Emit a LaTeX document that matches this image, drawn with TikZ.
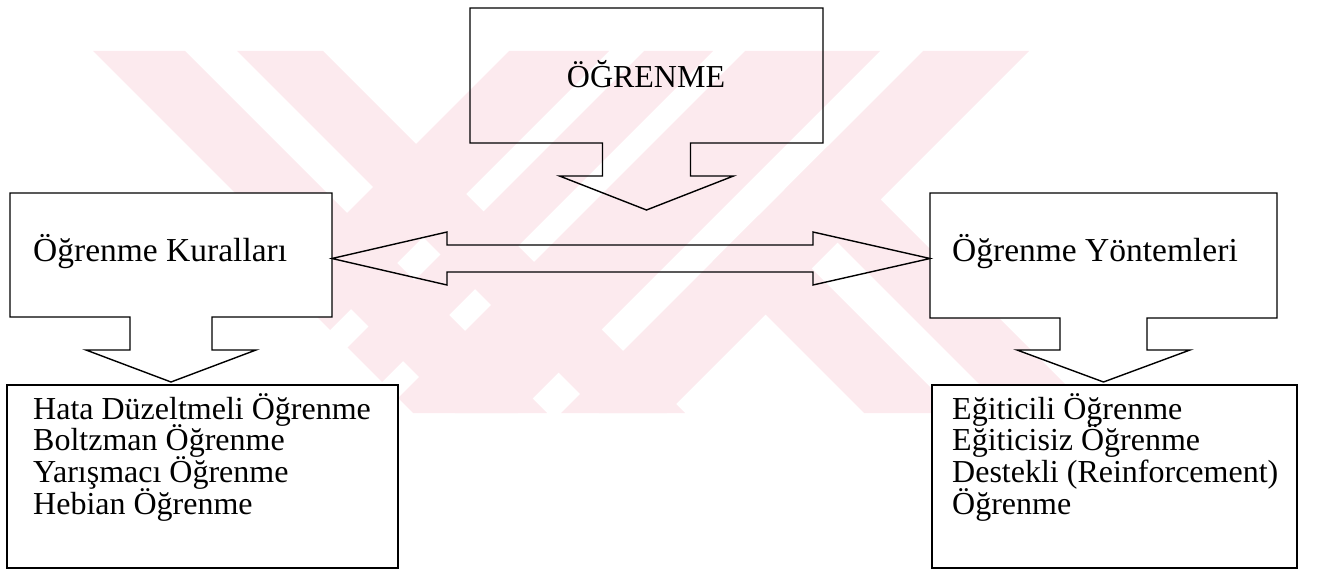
\documentclass[tikz,border=0pt]{standalone}
\usepackage{fontspec}
\setmainfont{Liberation Serif}
\usetikzlibrary{calc}
\definecolor{wmpink}{RGB}{252,234,238}
\begin{document}
\begin{tikzpicture}[x=1pt,y=-1pt,
  outline/.style={draw=black, line width=1.4pt, line join=miter},
  whitebox/.style={outline, fill=white},
  holder/.style={draw=none, inner sep=0pt, outer sep=0pt, rectangle},
  lbl/.style={inner sep=0pt, font=\fontsize{32}{32}\selectfont},
  biglbl/.style={inner sep=0pt, font=\fontsize{33.5}{33.5}\selectfont},
  wm/.style={fill=wmpink, draw=none}]

\useasboundingbox (0,0) rectangle (1318,578);

% faint striped mark in the background
\begin{scope}
  \clip (0,51) rectangle (1318,413);
  % left pair of falling stripes
  \fill[wm] (93,51) -- (185,51) -- (547,413) -- (455,413) -- cycle;
  \fill[wm] (237,51) -- (323,51) -- (685,413) -- (599,413) -- cycle;
  % rising stripes
  \begin{scope}
    \clip (51,51) -- (1318,51) -- (1318,413) -- (413,413) -- cycle;
    \foreach \a/\b in {560/660, 695/764, 796/931, 974/1080}
      \fill[wm] (\a-51,51) -- (\b-51,51) -- (\b-413,413) -- (\a-413,413) -- cycle;
  \end{scope}
  % right pair of falling stripes, lower part only
  \begin{scope}
    \clip (923,51) -- (1318,51) -- (1318,413) -- (561,413) -- cycle;
    \foreach \a/\b in {451/543, 595/681}
      \fill[wm] (\a+51,51) -- (\b+51,51) -- (\b+413,413) -- (\a+413,413) -- cycle;
  \end{scope}
\end{scope}

% box outlines (placeholders carry the geometry)
\node[holder, minimum width=353pt, minimum height=135pt] (ogr) at (646.5,75.5) {};
\node[holder, minimum width=322pt, minimum height=124pt] (kural) at (171,255) {};
\node[holder, minimum width=347pt, minimum height=125pt] (yontem) at (1103.5,255.5) {};

% top callout with downward arrow
\draw[outline] (ogr.north west) -- (ogr.north east) -- (ogr.south east)
  -- ($(ogr.south)+(44,0)$) -- ++(0,33) -- ++(43,0) -- ($(ogr.south)+(0,67)$)
  -- ($(ogr.south)+(-87,33)$) -- ++(43,0) -- ($(ogr.south)+(-44,0)$)
  -- (ogr.south west) -- cycle;

% left callout
\draw[whitebox] (kural.north west) -- (kural.north east) -- (kural.south east)
  -- ($(kural.south)+(41,0)$) -- ++(0,33) -- ++(44,0) -- ($(kural.south)+(0,65)$)
  -- ($(kural.south)+(-85,33)$) -- ++(44,0) -- ($(kural.south)+(-41,0)$)
  -- (kural.south west) -- cycle;

% right callout
\draw[whitebox] (yontem.north west) -- (yontem.north east) -- (yontem.south east)
  -- ($(yontem.south)+(43.5,0)$) -- ++(0,32) -- ++(43,0) -- ($(yontem.south)+(0,64)$)
  -- ($(yontem.south)+(-86.5,32)$) -- ++(43,0) -- ($(yontem.south)+(-43.5,0)$)
  -- (yontem.south west) -- cycle;

% lower boxes
\node[whitebox, inner sep=0pt, minimum width=391pt, minimum height=183pt] (kurlist) at (202.5,476.5) {};
\node[whitebox, inner sep=0pt, minimum width=365pt, minimum height=183pt] (yonlist) at (1114.5,476.5) {};

% double-headed block arrow between the two callouts
\coordinate (lt) at ($(kural.east)+(0,3.5)$);
\coordinate (rt) at ($(yontem.west)+(0,3)$);
\draw[outline] (lt) -- ++(115,-26.5) -- ++(0,13) -- ($(rt)+(-117,-13.5)$)
  -- ++(0,-13) -- (rt) -- ++(-117,26.5) -- ++(0,-13)
  -- ($(lt)+(115,13.5)$) -- ++(0,13) -- cycle;

% labels
\node[lbl, anchor=base] (t0) at (646,88) {ÖĞRENME};
\node[biglbl, anchor=base west] (t1) at (33,261) {Öğrenme Kuralları};
\node[biglbl, anchor=base west] (t2) at (952,261) {Öğrenme Yöntemleri};

\node[lbl, anchor=base west] (a1) at (33,419) {Hata Düzeltmeli Öğrenme};
\node[lbl, anchor=base west] (a2) at (33,450.7) {Boltzman Öğrenme};
\node[lbl, anchor=base west] (a3) at (33,482.4) {Yarışmacı Öğrenme};
\node[lbl, anchor=base west] (a4) at (33,514.1) {Hebian Öğrenme};

\node[lbl, anchor=base west] (b1) at (952,419) {Eğiticili Öğrenme};
\node[lbl, anchor=base west] (b2) at (952,450.7) {Eğiticisiz Öğrenme};
\node[lbl, anchor=base west] (b3) at (952,482.4) {Destekli (Reinforcement)};
\node[lbl, anchor=base west] (b4) at (952,514.1) {Öğrenme};
\end{tikzpicture}
\end{document}
